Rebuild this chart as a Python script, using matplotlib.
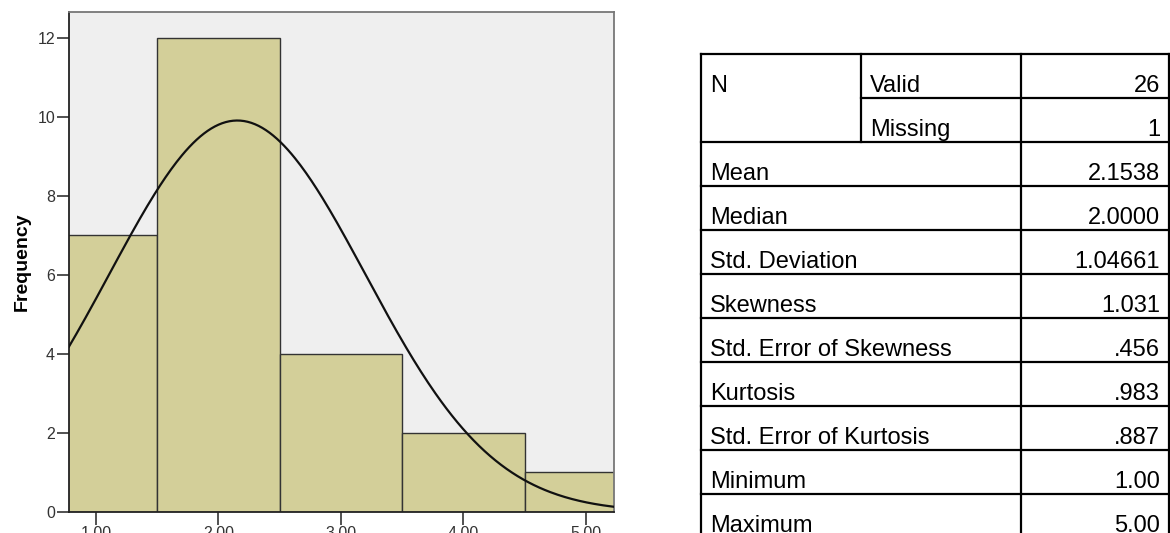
import matplotlib.pyplot as plt
import numpy as np

# histogram data
bin_centers = [1.0, 2.0, 3.0, 4.0, 5.0]
counts = [7, 12, 4, 2, 1]
x_ticks = [1.0, 2.0, 3.0, 4.0, 5.0]
x_tick_labels = ['1.00', '2.00', '3.00', '4.00', '5.00']
y_ticks = [0, 2, 4, 6, 8, 10, 12]

# statistics table
stat_labels = ['Mean', 'Median', 'Std. Deviation', 'Skewness', 'Std. Error of Skewness',
               'Kurtosis', 'Std. Error of Kurtosis', 'Minimum', 'Maximum']
stat_values = ['2.1538', '2.0000', '1.04661', '1.031', '.456', '.983', '.887', '1.00', '5.00']
n_labels = ['Valid', 'Missing']
n_values = ['26', '1']

mean = 2.1538
sd = 1.04661
n_valid = 26

plt.rcParams['font.family'] = ['Liberation Sans', 'DejaVu Sans']

fig = plt.figure(figsize=(11.7, 5.33), dpi=100)

# ---- histogram ----
ax = fig.add_axes([69 / 1170, 21 / 533, 545 / 1170, 499.7 / 533])
ax.set_facecolor('#efefef')
ax.bar(bin_centers, counts, width=1.0, color='#d3cf99', edgecolor='#333333', linewidth=1.0, zorder=2)

xs = np.linspace(0.78, 5.23, 300)
ys = n_valid * 1.0 / (sd * np.sqrt(2 * np.pi)) * np.exp(-0.5 * ((xs - mean) / sd) ** 2)
ax.plot(xs, ys, color='#111111', linewidth=1.6, zorder=3)

ax.set_xlim(0.78, 5.229)
ax.set_ylim(0, 12.65)
ax.set_xticks(x_ticks)
ax.set_xticklabels(x_tick_labels)
ax.set_yticks(y_ticks)
ax.tick_params(axis='both', direction='out', length=9, width=1.2, color='#333333',
               labelsize=11.5, labelcolor='#333333', pad=1)
for s in ax.spines.values():
    s.set_color('#777777')
    s.set_linewidth(1.3)
ax.spines['left'].set_color('#222222')
ax.spines['bottom'].set_color('#222222')
ax.set_ylabel('Frequency', fontsize=14, fontweight='bold', labelpad=5)

# ---- statistics table (pixel coordinates) ----
tab = fig.add_axes([0, 0, 1, 1])
tab.set_xlim(0, 1170)
tab.set_ylim(533, 0)
tab.axis('off')

x0, x1, x2, x3 = 701, 861, 1021, 1169
top = 54
row_h = 44
n_rows = 2 + len(stat_labels)
lw = 1.6

# horizontal lines
for i in range(n_rows + 1):
    y = top + i * row_h
    if i == 1:
        tab.plot([x1, x3], [y, y], color='black', linewidth=lw)
    else:
        tab.plot([x0, x3], [y, y], color='black', linewidth=lw)
bottom = top + n_rows * row_h
tab.plot([x0, x0], [top, bottom], color='black', linewidth=lw)
tab.plot([x3, x3], [top, bottom], color='black', linewidth=lw)
tab.plot([x2, x2], [top, bottom], color='black', linewidth=lw)
tab.plot([x1, x1], [top, top + 2 * row_h], color='black', linewidth=lw)

fs = 17
tab.text(x0 + 9, top + row_h - 6, 'N', fontsize=fs, va='baseline', ha='left')
for i in range(2):
    yb = top + (i + 1) * row_h - 6
    tab.text(x1 + 9, yb, n_labels[i], fontsize=fs, va='baseline', ha='left')
    tab.text(x3 - 9, yb, n_values[i], fontsize=fs, va='baseline', ha='right')
for i in range(len(stat_labels)):
    yb = top + (i + 3) * row_h - 6
    tab.text(x0 + 9, yb, stat_labels[i], fontsize=fs, va='baseline', ha='left')
    tab.text(x3 - 9, yb, stat_values[i], fontsize=fs, va='baseline', ha='right')

fig.savefig('out.png', dpi=100)
